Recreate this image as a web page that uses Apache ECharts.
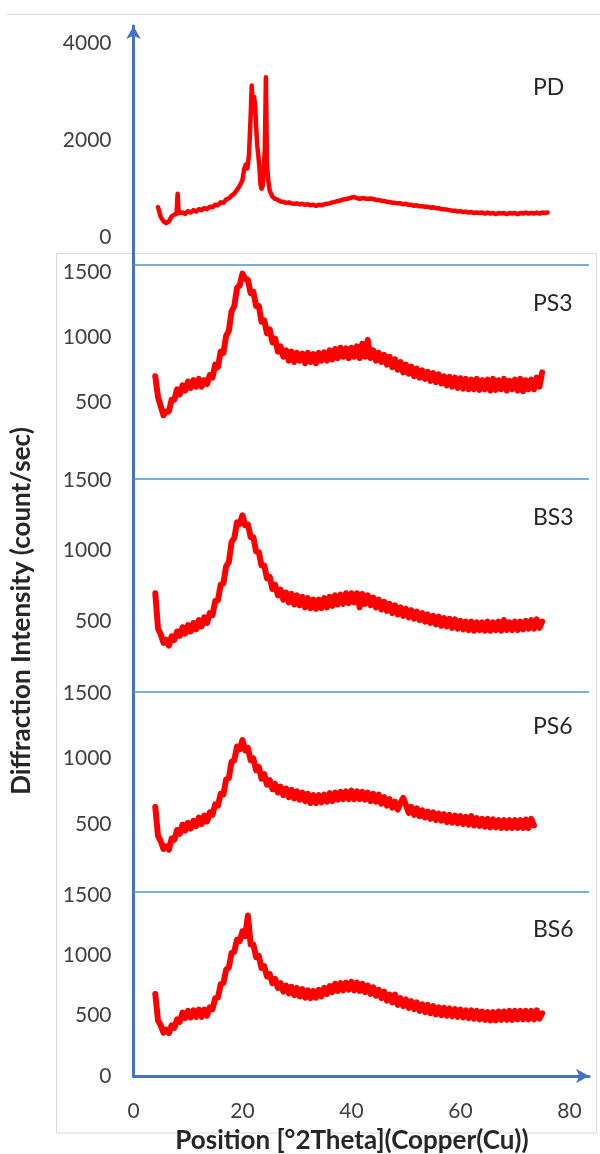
<!DOCTYPE html>
<html><head><meta charset="utf-8">
<script src="https://cdn.jsdelivr.net/npm/echarts@6/dist/echarts.min.js"></script>
<style>html,body{margin:0;padding:0;background:#fff}#c{width:600px;height:1154px}</style>
</head><body><div id="c"></div>
<script>
// ---- data ----
const twoTheta = [4,4.5,5,5.5,6,6.5,7,7.5,8,8.5,9,9.5,10,10.5,11,11.5,12,12.5,13,13.5,
14,14.5,15,15.5,16,16.5,17,17.5,18,18.5,19,19.5,20,20.5,21,21.5,22,22.5,23,23.5,
24,24.5,25,25.5,26,26.5,27,27.5,28,28.5,29,29.5,30,30.5,31,31.5,32,32.5,33,33.5,
34,34.5,35,35.5,36,36.5,37,37.5,38,38.5,39,39.5,40,40.5,41,41.5,42,42.5,43,43.5,
44,44.5,45,45.5,46,46.5,47,47.5,48,48.5,49,49.5,50,50.5,51,51.5,52,52.5,53,53.5,
54,54.5,55,55.5,56,56.5,57,57.5,58,58.5,59,59.5,60,60.5,61,61.5,62,62.5,63,63.5,
64,64.5,65,65.5,66,66.5,67,67.5,68,68.5,69,69.5,70,70.5,71,71.5,72,72.5,73,73.5,
74,74.5,75,75.5,76];

const pdTheta = [4.5,5,5.5,6,6.5,7,7.5,7.9,8.1,8.3,
8.5,9,9.5,10,10.5,11,11.5,12,12.5,13,13.5,14,14.5,15,15.5,16,16.5,17,17.5,18,18.5,19,19.5,20,
20.3,20.6,20.9,21.2,21.5,
21.7,21.9,22.1,22.3,22.5,22.7,22.9,23.1,23.3,23.5,23.7,23.9,24.1,24.3,24.5,24.7,
25,
25.5,26,26.5,27,27.5,28,28.5,29,29.5,30,
30.5,31,31.5,32,32.5,33,33.5,34,34.5,35,
35.5,36,36.5,37,37.5,38,38.5,39,39.5,40,
40.5,41,41.5,42,42.5,43,43.5,44,44.5,45,
45.5,46,46.5,47,47.5,48,48.5,49,49.5,50,
50.5,51,51.5,52,52.5,53,53.5,54,54.5,55,
55.5,56,56.5,57,57.5,58,58.5,59,59.5,60,
60.5,61,61.5,62,62.5,63,63.5,64,64.5,65,
65.5,66,66.5,67,67.5,68,68.5,69,69.5,70,
70.5,71,71.5,72,72.5,73,73.5,74,74.5,75,
75.5,76];
const pdCounts = [620,420,330,290,330,430,470,480,900,500,
470,510,480,540,510,560,530,580,560,600,580,630,620,670,660,720,710,780,800,860,900,980,1060,1180,
1400,1500,1420,1700,2500,
3130,2700,2900,2760,2300,1900,1700,1450,1100,1000,1050,1400,1800,3300,1500,1200,
960,
840,790,770,740,730,710,720,700,690,700,
680,690,670,680,660,670,650,670,660,680,
690,700,720,730,750,760,780,790,800,820,
830,810,790,810,800,790,800,790,770,770,
750,750,730,730,710,710,700,700,680,690,
670,670,650,660,640,640,630,630,610,620,
600,600,580,580,570,560,550,550,530,540,
520,530,510,520,500,510,500,510,490,510,
490,500,480,500,490,500,480,500,490,500,
480,500,490,510,490,500,490,510,490,510,
500,510];

const ps3Counts = [700,540,470,400,430,430,520,520,600,560,
630,590,660,610,670,620,680,620,670,640,
710,690,790,770,890,880,1010,1050,1200,1240,
1380,1400,1490,1450,1440,1340,1350,1240,1240,1120,
1130,1030,1060,960,990,890,930,850,900,820,
890,810,880,820,875,800,880,810,870,800,
880,820,885,820,900,830,910,840,920,850,
915,840,920,850,930,840,950,850,980,840,
900,820,880,810,865,790,850,770,830,750,
810,730,790,720,775,700,760,690,745,680,
735,665,725,655,715,645,700,630,695,620,
690,610,685,605,680,600,675,600,680,595,
670,600,675,590,680,595,670,600,680,590,
665,600,675,590,680,585,670,600,675,600,
690,620,730];

const bs3Counts = [700,450,410,350,370,330,395,370,430,400,
460,415,475,430,490,445,510,465,530,490,
560,545,645,650,760,770,890,920,1060,1090,
1200,1190,1250,1180,1185,1095,1095,995,990,895,
895,805,815,730,760,685,725,655,705,635,
695,620,685,615,675,600,665,595,655,590,
655,595,665,600,675,610,685,620,690,625,
700,630,700,635,700,600,695,625,685,615,
670,600,655,585,640,575,625,560,615,550,
600,540,590,530,580,520,570,510,560,500,
550,490,540,480,535,470,525,465,520,455,
515,450,505,445,500,440,500,435,495,440,
495,435,500,435,495,440,500,435,510,440,
495,440,500,440,500,445,505,450,510,450,
515,455,500];

const ps6Counts = [630,410,370,310,330,305,390,380,455,425,
495,450,510,465,525,485,550,500,565,520,
590,570,650,640,730,725,840,850,975,985,
1090,1070,1140,1060,1080,985,1000,910,935,845,
880,800,835,765,805,740,785,720,770,705,
760,695,750,685,740,675,730,660,720,660,
720,665,725,670,735,675,740,685,745,690,
750,690,755,690,750,690,745,685,740,675,
730,670,725,655,705,640,690,625,670,610,
660,700,645,585,630,570,620,560,605,550,
595,540,590,530,580,525,575,515,570,510,
565,505,560,500,555,495,560,490,545,485,
540,480,540,475,535,475,530,470,530,470,
530,470,530,470,530,470,535,470,540,490];

const bs6Counts = [680,460,420,360,385,355,420,400,470,450,
525,480,540,485,545,490,550,490,550,500,
570,555,645,650,760,770,880,900,1020,1030,
1130,1120,1200,1160,1330,1090,1090,985,995,895,
910,825,845,770,805,730,770,700,750,685,
740,670,730,660,720,650,710,645,705,650,
715,660,730,680,745,695,765,705,770,710,
775,715,780,710,775,705,765,695,750,680,
735,665,715,645,700,625,675,610,675,590,
645,580,635,565,620,555,610,540,595,530,
590,520,580,510,570,505,565,500,560,495,
555,490,550,485,545,480,545,475,540,470,
535,465,530,460,530,460,535,465,535,465,
540,465,540,470,540,470,540,470,540,470,
545,475,520];

const sampleNames = ['PD','PS3','BS3','PS6','BS6'];
const yTickStep = [2000,500,500,500,500];
const yAxisMax = [4000,1556,1511,1508,1528];
const xTickStep = 20;
const xAxisMax = 83.6;
const yTitle = 'Diffraction Intensity (count/sec)';
const xTitle = 'Position [°2Theta](Copper(Cu))';

// ---- layout ----
const FONT = 'Lato';
const LEFT = 133.5, RIGHT = 11;
const panelBoxes = [
  {top: 43.3, height: 194},
  {top: 265, height: 202.3},
  {top: 478.3, height: 214.1},
  {top: 691.7, height: 198},
  {top: 891.7, height: 184.3}
];
const nameY = [88, 304, 518, 727, 930];
const lineWidths = [4.5, 6, 6, 6, 6];

function pairs(xs, ys){ return ys.map((v,i)=>[xs[i], v]); }
const seriesData = [
  pairs(pdTheta, pdCounts),
  pairs(twoTheta, ps3Counts),
  pairs(twoTheta, bs3Counts),
  pairs(twoTheta, ps6Counts),
  pairs(twoTheta, bs6Counts)
];
const plain = v => String(v);

const grids = panelBoxes.map(b => ({left: LEFT, right: RIGHT, top: b.top, height: b.height}));
grids.push({left: LEFT, right: RIGHT, top: 26, height: 1050});

const xAxes = panelBoxes.map((b,i) => ({gridIndex: i, type: 'value', min: 0, max: xAxisMax, show: false}));
const axisBlue = {show: true, symbol: ['none','arrow'], symbolSize: [11, 13], lineStyle: {color: '#4472c4', width: 3}};
xAxes.push({
  gridIndex: 5, type: 'value', min: 0, max: xAxisMax, interval: xTickStep,
  axisLine: axisBlue, axisTick: {show: false}, splitLine: {show: false},
  axisLabel: {fontSize: 21, color: '#404040', fontFamily: FONT, margin: 25, showMaxLabel: false, formatter: plain}
});

const yAxes = panelBoxes.map((b,i) => ({
  gridIndex: i, type: 'value', min: 0, max: yAxisMax[i], interval: yTickStep[i],
  axisLine: {show: false}, axisTick: {show: false}, splitLine: {show: false},
  axisLabel: {fontSize: 21, color: '#404040', fontFamily: FONT, margin: 22, formatter: plain,
    showMaxLabel: i === 0, showMinLabel: (i === 0 || i === 4)}
}));
yAxes.push({
  gridIndex: 5, type: 'value', min: 0, max: 1,
  axisLine: axisBlue, axisTick: {show: false}, splitLine: {show: false}, axisLabel: {show: false}
});

const series = seriesData.map((d,i) => {
  const s = {
    type: 'line', name: sampleNames[i], xAxisIndex: i, yAxisIndex: i, data: d,
    showSymbol: false, symbol: 'none', smooth: false,
    lineStyle: {color: '#ff0000', width: lineWidths[i], join: 'round', cap: 'round'}, silent: true
  };
  if (i > 0) {
    s.markLine = {silent: true, symbol: 'none', label: {show: false},
      lineStyle: {color: '#4b96d1', width: 1.5, type: 'solid'},
      data: [{yAxis: yAxisMax[i]}]};
  }
  return s;
});

const graphic = [
  {type: 'line', shape: {x1: 7, y1: 14.5, x2: 600, y2: 14.5}, style: {stroke: '#d9d9d9', lineWidth: 1}, z: -10},
  {type: 'rect', shape: {x: 56.5, y: 253.5, width: 540, height: 879.5}, style: {fill: 'none', stroke: '#d9d9d9', lineWidth: 1}, z: -10},
  {type: 'text', x: 22, y: 611, rotation: Math.PI/2,
    style: {text: yTitle, fontSize: 26, fontWeight: 'bold', fontFamily: FONT, fill: '#262626', align: 'center', verticalAlign: 'middle'}},
  {type: 'text', x: 352, y: 1141,
    style: {text: xTitle, fontSize: 26, fontWeight: 'bold', fontFamily: FONT, fill: '#262626', align: 'center', verticalAlign: 'middle'}}
];
sampleNames.forEach((n,i) => graphic.push({type: 'text', x: 533, y: nameY[i],
  style: {text: n, fontSize: 23, fontFamily: FONT, fill: '#262626', align: 'left', verticalAlign: 'middle'}}));

const chart = echarts.init(document.getElementById('c'), null, {renderer: 'canvas'});
chart.setOption({
  animation: false,
  backgroundColor: '#ffffff',
  grid: grids, xAxis: xAxes, yAxis: yAxes, series: series, graphic: graphic
});
</script></body></html>
